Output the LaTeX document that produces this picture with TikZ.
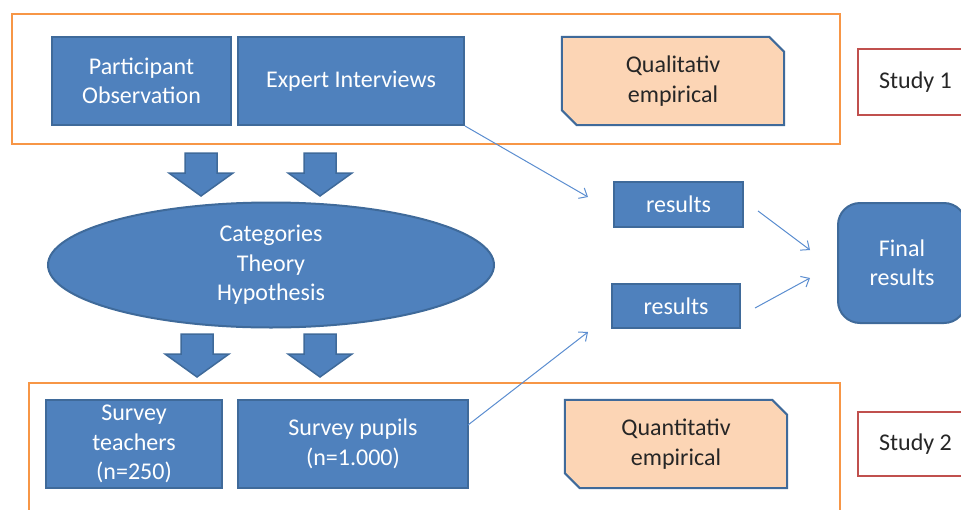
\documentclass[tikz,border=0pt]{standalone}
\usepackage{fontspec}
\setmainfont{Carlito}
\usetikzlibrary{arrows.meta,backgrounds}
\definecolor{boxblue}{HTML}{4F81BD}
\definecolor{boxline}{HTML}{3F6A9A}
\definecolor{peach}{HTML}{FCD5B5}
\definecolor{frameorange}{HTML}{F79646}
\definecolor{studyred}{HTML}{C0504D}
\definecolor{linkblue}{HTML}{5B8DD0}
\tikzset{
  bluebox/.style={draw=boxline, line width=2pt, fill=boxblue, text=white, align=center, inner sep=0pt, font=\fontsize{24}{29.5}\selectfont},
  peachbox/.style={text=black!85, align=center, inner sep=0pt, font=\fontsize{24}{29.5}\selectfont},
  snip/.style={draw=boxline, line width=2pt, fill=peach},
  studybox/.style={draw=studyred, line width=2.5pt, fill=white, text=black!85, align=center, inner sep=0pt, font=\fontsize{24}{29.5}\selectfont},
  frame/.style={draw=frameorange, line width=2.5pt},
  link/.style={draw=linkblue, line width=1pt, -{Straight Barb[length=7pt,width=12pt]}},
  downarrow/.pic={\path[fill=boxblue, draw=boxline, line width=1.5pt]
     (-16,0) -- (16,0) -- (16,20) -- (32,20) -- (0,43) -- (-32,20) -- (-16,20) -- cycle;}
}
\begin{document}
\begin{tikzpicture}[x=1pt,y=-1pt]
\useasboundingbox (0,0) rectangle (961,509);
\clip (0,0) rectangle (961,509);
% frames
\draw[frame] (12,14) rectangle (840,144);
\draw[frame] (29,383) rectangle (840,540);
% top row
\node[bluebox, minimum width=179pt, minimum height=88pt] (po) at (141.5,81) {Participant\\Observation};
\node[bluebox, minimum width=226pt, minimum height=88pt] (ei) at (351,81) {Expert Interviews};
\node[peachbox, minimum width=222pt, minimum height=88pt] (qual) at (673,81) {Qualitativ\\empirical};
\node[studybox, minimum width=115pt, minimum height=66pt] (s1) at (915.5,82) {Study 1};
% block arrows
\pic at (201,153) {downarrow};
\pic at (320,153) {downarrow};
% ellipse
\path[fill=boxblue, draw=boxline, line width=2pt] (271,265) ellipse [x radius=223, y radius=62.5];
\node[text=white, align=center, font=\fontsize{24}{29.5}\selectfont] (cat) at (271,265) {Categories\\Theory\\Hypothesis};
\pic at (197,334) {downarrow};
\pic at (320,334) {downarrow};
% results
\node[bluebox, minimum width=129pt, minimum height=45pt] (r1) at (678.5,204.5) {results};
\node[bluebox, minimum width=128pt, minimum height=44pt] (r2) at (676,306) {results};
\node[bluebox, rounded corners=22pt, minimum width=128pt, minimum height=120pt] (fin) at (902,263) {Final\\results};
% bottom row
\node[bluebox, minimum width=176pt, minimum height=88pt] (st) at (134,444) {Survey\\teachers\\(n=250)};
\node[bluebox, minimum width=230pt, minimum height=88pt] (sp) at (353,444) {Survey pupils\\(n=1.000)};
\node[peachbox, minimum width=222pt, minimum height=88pt] (quant) at (676,444) {Quantitativ\\empirical};
\node[studybox, minimum width=115pt, minimum height=64pt] (s2) at (915.5,444) {Study 2};
% snipped-corner outlines behind the peach texts
\begin{scope}[on background layer]
\foreach \n in {qual,quant}{
  \path[snip] (\n.north west) -- ([xshift=-15pt]\n.north east) -- ([yshift=-15pt]\n.north east)
    -- (\n.south east) -- ([xshift=15pt]\n.south west) -- ([yshift=15pt]\n.south west) -- cycle;
}
\end{scope}
% thin connectors
\coordinate (a1e) at (588,197);
\coordinate (a2s) at (758,211);
\coordinate (a2e) at (810,250);
\coordinate (a3s) at (755,308);
\coordinate (a3e) at (810,278);
\coordinate (a4s) at (468,425);
\coordinate (a4e) at (588,332);
\draw[link] (ei.south east) -- (a1e);
\draw[link] (a2s) -- (a2e);
\draw[link] (a3s) -- (a3e);
\draw[link] (a4s) -- (a4e);
\end{tikzpicture}
\end{document}
